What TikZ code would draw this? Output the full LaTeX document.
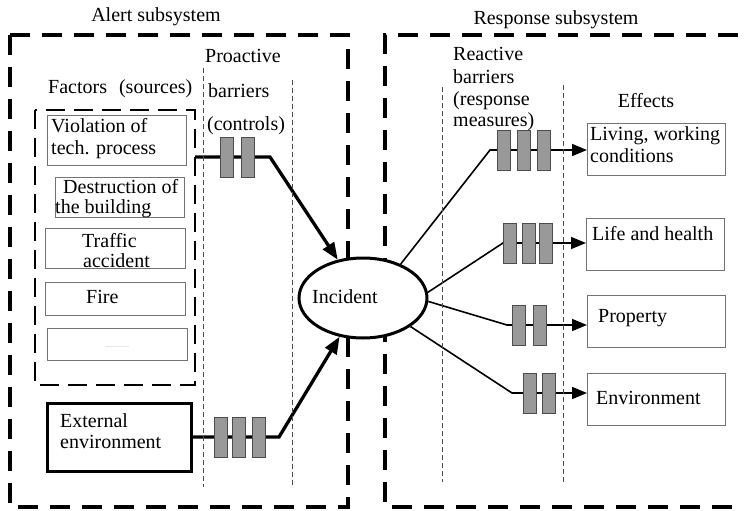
\documentclass[tikz,border=0pt]{standalone}
\usepackage{fontspec}
\setmainfont{Liberation Serif}
\usetikzlibrary{arrows.meta,shapes.geometric,backgrounds}
\begin{document}
\begin{tikzpicture}[x=1pt,y=-1pt,
  every node/.style={inner sep=0pt, font=\fontsize{20}{22}\selectfont},
  bigdash/.style={line width=3.2pt, dash pattern=on 20pt off 12pt},
  middash/.style={line width=2.7pt, dash pattern=on 19pt off 9pt},
  coldash/.style={line width=0.8pt, dash pattern=on 5pt off 3pt, black!70},
  srcbox/.style={draw=black!55, line width=1.3pt, rectangle, anchor=north west},
  extbox/.style={draw=black, line width=2.5pt, rectangle, anchor=north west},
  barrier/.style={draw=black!70, fill=black!40, line width=0.8pt, minimum width=13pt, minimum height=40pt},
  thickarrow/.style={line width=3.3pt, -{Triangle[length=17pt,width=13pt]}},
  thinarrow/.style={line width=1.6pt, -{Triangle[length=15pt,width=12pt]}},
  lbl/.style={anchor=base west},
  incstyle/.style={ellipse, draw, fill=white, line width=3pt, minimum width=128pt, minimum height=80pt}
]
\useasboundingbox (0,0) rectangle (744,511);
\clip (0,0) rectangle (744,511);

% frames
\draw[bigdash] (10,35) rectangle (348,507);
\draw[bigdash] (770,35) -- (385,35) -- (385,507) -- (770,507);
\draw[middash] (35,110) rectangle (195,385);

% barrier columns
\draw[coldash] (203,68) -- (203,487);
\draw[coldash] (292,80) -- (292,487);
\draw[coldash] (442,87) -- (442,482);
\draw[coldash] (563,85) -- (563,482);

% titles
\node[anchor=base] (talert) at (156,22) {Alert subsystem};
\node[anchor=base] (tresp) at (556,25) {Response subsystem};
\node[lbl] (tfact) at (48,93) {Factors\hspace{12pt}(sources)};
\node[lbl] (tpro1) at (205,63) {Proactive};
\node[lbl] (tpro2) at (208,97) {barriers};
\node[lbl] (tpro3) at (207,130) {(controls)};
\node[lbl] (trea1) at (453,61) {Reactive};
\node[lbl] (trea2) at (453,83) {barriers};
\node[lbl] (trea3) at (453,105) {(response};
\node[lbl] (trea4) at (453,126) {measures)};
\node[anchor=base] (teff) at (646,107) {Effects};

% source boxes
\node[srcbox, minimum width=139pt, minimum height=50pt] (viol) at (47,115) {};
\node[srcbox, minimum width=129pt, minimum height=40pt] (destr) at (55,177) {};
\node[srcbox, minimum width=140pt, minimum height=40pt] (traf) at (45,228) {};
\node[srcbox, minimum width=140pt, minimum height=33pt] (fire) at (45,282) {};
\node[srcbox, minimum width=140pt, minimum height=32pt] (etc) at (47,328) {};
\node[extbox, minimum width=144pt, minimum height=68pt] (ext) at (46,402) {};

\node[lbl] (tviol1) at (51,132) {Violation of};
\node[lbl] (tviol2) at (51,154) {tech. process};
\node[lbl] (tdes1) at (63,193) {Destruction of};
\node[lbl] (tdes2) at (55,213) {the building};
\node[lbl] (ttra1) at (82,247) {Traffic};
\node[lbl] (ttra2) at (83,267) {accident};
\node[lbl] (tfire) at (86,303) {Fire};
\node[text=black!60] (tetc) at (117,347) {\fontsize{4}{5}\selectfont ........................};
\node[lbl] (text1) at (60,427) {External};
\node[lbl] (text2) at (60,448) {environment};

% incident
\node[incstyle] (inc) at (363,298) {};
\node[lbl] (tinc) at (312,303) {Incident};

% effect boxes
\node[srcbox, minimum width=138pt, minimum height=52pt] (eff1) at (587,123) {};
\node[srcbox, minimum width=138pt, minimum height=52pt] (eff2) at (586,218) {};
\node[srcbox, minimum width=138pt, minimum height=52pt] (eff3) at (587,295) {};
\node[srcbox, minimum width=138pt, minimum height=52pt] (eff4) at (587,373) {};
\node[lbl] (teff1a) at (590,140) {Living, working};
\node[lbl] (teff1b) at (590,162) {conditions};
\node[lbl] (teff2) at (592,240) {Life and health};
\node[lbl] (teff3) at (598,322) {Property};
\node[lbl] (teff4) at (596,404) {Environment};

% barriers
\node[barrier] (b11) at (227,157) {};
\node[barrier] (b12) at (247.5,157) {};
\node[barrier] (b21) at (221,437) {};
\node[barrier] (b22) at (239,437) {};
\node[barrier] (b23) at (258.5,437) {};
\node[barrier] (r11) at (503.5,150) {};
\node[barrier] (r12) at (523.5,150) {};
\node[barrier] (r13) at (543.5,150) {};
\node[barrier] (r21) at (509.5,243) {};
\node[barrier] (r22) at (528.5,243) {};
\node[barrier] (r23) at (545.5,243) {};
\node[barrier] (r31) at (518.5,325) {};
\node[barrier] (r32) at (539.5,325) {};
\node[barrier] (r41) at (530,393) {};
\node[barrier] (r42) at (548.5,393) {};

% connector coordinates
\coordinate (p1s) at (195,157);
\coordinate (p1c) at (270,157);
\coordinate (p2c) at (279,437);
\coordinate (q1c) at (490,150);
\coordinate (q2c) at (503,243);
\coordinate (q3c) at (507,325);
\coordinate (q4c) at (512,393);

\begin{scope}[on background layer]
\draw[thickarrow] (p1s) -- (p1c) -- (inc);
\draw[thickarrow] (ext.east |- p2c) -- (p2c) -- (inc);
\draw[thinarrow] (inc.42) -- (q1c) -- (q1c -| eff1.west);
\draw[thinarrow] (inc.5) -- (q2c) -- (q2c -| eff2.west);
\draw[thinarrow] (inc.-3) -- (q3c) -- (q3c -| eff3.west);
\draw[thinarrow] (inc.-31) -- (q4c) -- (q4c -| eff4.west);
\end{scope}
\end{tikzpicture}
\end{document}
